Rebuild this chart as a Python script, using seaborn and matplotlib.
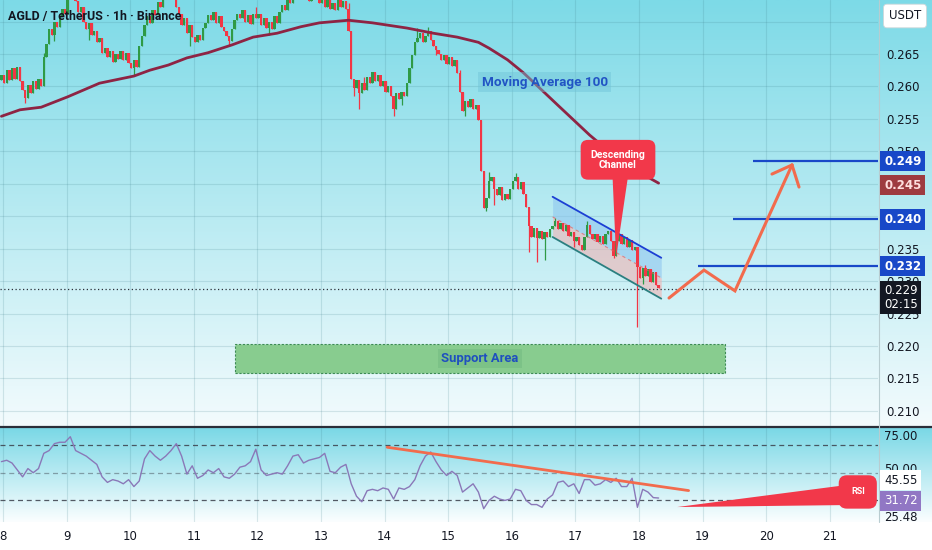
import numpy as np
import pandas as pd
import matplotlib
matplotlib.use("Agg")
import matplotlib.pyplot as plt
import matplotlib.colors as mcolors
from matplotlib.patches import Rectangle, Polygon
import seaborn as sns

# ---------------- data ----------------
T0 = 7.975  # day position of the first hourly candle
day_ticks = [8, 9, 10, 11, 12, 13, 14, 15, 16, 17, 18, 19, 20, 21]

first_open = 0.2610
closes = [
    0.2618, 0.2605, 0.2625, 0.2610, 0.2628, 0.2612, 0.2630, 0.2608,
    0.2595, 0.2582,
    0.2602, 0.2590, 0.2608, 0.2596, 0.2612, 0.2600,
    0.2645, 0.2665, 0.2688,
    0.2680, 0.2700, 0.2692, 0.2708,
    0.2720, 0.2712, 0.2735, 0.2745, 0.2750, 0.2732,
    0.2715, 0.2722, 0.2700, 0.2688, 0.2698, 0.2680, 0.2686, 0.2668, 0.2675,
    0.2652, 0.2660, 0.2645, 0.2655, 0.2638, 0.2650, 0.2642, 0.2655, 0.2640, 0.2652, 0.2636,
    0.2628, 0.2640, 0.2630,
    0.2662, 0.2678, 0.2695,
    0.2708, 0.2698, 0.2718, 0.2710, 0.2730, 0.2722, 0.2745, 0.2755, 0.2740, 0.2758, 0.2735, 0.2722, 0.2712,
    0.2695, 0.2705, 0.2682, 0.2695, 0.2676, 0.2668, 0.2680, 0.2672, 0.2690, 0.2698,
    0.2710, 0.2702, 0.2715, 0.2698, 0.2708, 0.2692, 0.2685, 0.2678, 0.2670, 0.2688,
    0.2702, 0.2712, 0.2705, 0.2718, 0.2700, 0.2710, 0.2696, 0.2712, 0.2705,
    0.2712, 0.2695, 0.2705, 0.2690, 0.2700, 0.2688, 0.2708, 0.2698, 0.2715, 0.2725, 0.2718,
    0.2735, 0.2728, 0.2748, 0.2740, 0.2752, 0.2745, 0.2758, 0.2740, 0.2732, 0.2748, 0.2755, 0.2738,
    0.2728, 0.2742, 0.2722, 0.2735, 0.2720,
    0.2728, 0.2718, 0.2735, 0.2722, 0.2732, 0.2720,
    0.2685, 0.2612,
    0.2598, 0.2610, 0.2590, 0.2605, 0.2595,
    0.2615, 0.2605, 0.2622, 0.2608, 0.2618,
    0.2600, 0.2608, 0.2592, 0.2600, 0.2585, 0.2566, 0.2590,
    0.2580, 0.2592, 0.2585,
    0.2605, 0.2628, 0.2648, 0.2668, 0.2675,
    0.2682, 0.2668, 0.2678, 0.2685, 0.2672, 0.2662, 0.2656,
    0.2650, 0.2640, 0.2648, 0.2635, 0.2645, 0.2632, 0.2640, 0.2620,
    0.2592, 0.2562,
    0.2578, 0.2568, 0.2580, 0.2566, 0.2572,
    0.2548, 0.2470, 0.2412,
    0.2428, 0.2455,
    0.2460, 0.2442, 0.2432, 0.2445,
    0.2425, 0.2435, 0.2426, 0.2442,
    0.2455, 0.2460, 0.2442, 0.2452,
    0.2435, 0.2415, 0.2385,
    0.2368, 0.2382, 0.2366, 0.2378, 0.2365, 0.2376, 0.2368, 0.2380,
    0.2385, 0.2392, 0.2380, 0.2390, 0.2378, 0.2386,
    0.2370, 0.2376, 0.2362, 0.2368, 0.2356,
    0.2348, 0.2368, 0.2386,
    0.2372, 0.2365, 0.2372, 0.2360, 0.2370, 0.2358, 0.2372, 0.2378, 0.2362,
    0.2338, 0.2362, 0.2372,
    0.2358, 0.2368, 0.2352, 0.2364, 0.2348, 0.2352,
    0.2322,
    0.2305, 0.2320,
    0.2308, 0.2318, 0.2298, 0.2314, 0.2294, 0.2290,
]
low_wick_hours = [9, 20, 33, 50, 71, 86, 101, 133, 135, 148, 151, 164, 175, 183, 186,
                  199, 202, 205, 216, 231, 240, 242]
low_wick_values = [0.2575, 0.2670, 0.2672, 0.2618, 0.2662, 0.2662, 0.2680, 0.2585, 0.2565,
                   0.2555, 0.2572, 0.2648, 0.2555, 0.2408, 0.2418, 0.2345, 0.2330, 0.2333,
                   0.2352, 0.2335, 0.2229, 0.2295]
high_wick_hours = [16, 27, 62, 96, 131, 137, 157, 161, 173, 184, 194, 209, 221, 243]
high_wick_values = [0.2652, 0.2760, 0.2765, 0.2722, 0.2728, 0.2615, 0.2690, 0.2692, 0.2625,
                    0.2468, 0.2466, 0.2398, 0.2392, 0.2325]

ma_hours = [0, 7, 15, 25, 37, 50, 56, 63, 70, 78, 87, 95, 104, 113, 120, 131,
            140, 153, 163, 172, 180, 184, 191, 197, 203, 210, 216, 222, 229, 235, 241, 248]
ma_values = [0.2554, 0.2564, 0.2568, 0.2584, 0.2605, 0.2616, 0.2625, 0.2633, 0.2644,
             0.2652, 0.2664, 0.2676, 0.2682, 0.2692, 0.2698, 0.2702, 0.2698, 0.2690,
             0.2682, 0.2676, 0.2668, 0.2659, 0.2641, 0.2621, 0.2598, 0.2571, 0.2548,
             0.2525, 0.2501, 0.2484, 0.2467, 0.2451]

rsi_step_hours = 2
rsi_values = [
    58, 59, 57, 52, 47, 53, 50, 53, 64, 66,
    71, 72, 72, 76, 66, 64, 62, 59, 56, 47,
    43, 45, 44, 42, 45, 40, 44, 60, 66, 62,
    59, 62, 66, 71, 62, 49, 55, 46, 48, 52,
    50, 53, 47, 46, 49, 54, 55, 58, 67, 52,
    48, 49, 50, 49, 55, 62, 63, 57, 59, 60,
    61, 64, 51, 50, 54, 56, 42, 33, 29, 37,
    38, 37, 39, 38, 31, 39, 38, 40, 45, 55,
    62, 65, 58, 52, 48, 51, 48, 36, 39, 42,
    36, 24, 30, 33, 31, 30, 31, 38, 37, 30,
    27, 27, 25, 31, 34, 43, 44, 40, 42, 35,
    45, 45, 41, 42, 45, 43, 46, 40, 40, 46,
    25, 38, 36, 32, 31.72,
]

channel_hours = [208, 249]
channel_upper = [0.2430, 0.2336]
channel_mid = [0.2399, 0.2305]
channel_lower = [0.2368, 0.2273]

target_prices = [0.2485, 0.2395, 0.2323]
target_labels = ["0.249", "0.240", "0.232"]
target_start_days = [19.79, 19.48, 18.93]
ma_last_label = "0.245"
ma_last_price = 0.2448

proj_days = [18.472, 19.022, 19.509, 20.406]
proj_prices = [0.2274, 0.2317, 0.2285, 0.2479]
arrow_wing_days = [20.091, 20.516]
arrow_wing_prices = [0.2465, 0.2445]

support_days = [11.648, 19.352]
support_prices = [0.2158, 0.2203]

current_price = 0.2288
current_label = "0.229\n02:15"
rsi_trend_days = [14.04, 18.78]
rsi_trend_values = [68.4, 37.1]

price_ticks = [0.210, 0.215, 0.220, 0.225, 0.230, 0.235, 0.240, 0.245, 0.250, 0.255, 0.260, 0.265, 0.270]
price_tick_labels = ["0.210", "0.215", "0.220", "0.225", "0.230", "0.235", "", "",
                     "0.250", "0.255", "0.260", "0.265", ""]

# ---------------- style ----------------
sns.set_theme(style="white")
plt.rcParams["font.family"] = ["DejaVu Sans"]
LBL = ["Roboto", "DejaVu Sans"]

GREEN = "#2f9a46"
RED = "#f23645"
BLUE = "#1848c8"
ORANGE = "#f26b4d"
TXT = "#131722"

W, H = 932, 550
PLOT_R = 878
MAIN_BOT = 426
RSI_TOP, RSI_BOT = 428, 522
XMIN = 8 - 3 / 63.6
XMAX = 8 + 875 / 63.6

fig = plt.figure(figsize=(9.32, 5.5), dpi=100)
fig.patch.set_facecolor("white")

# background gradients
bg = fig.add_axes([0, 0, 1, 1], zorder=-10)
bg.axis("off")


def grad(c1, c2, n=256):
    a = np.array(mcolors.to_rgb(c1))
    b = np.array(mcolors.to_rgb(c2))
    t = np.linspace(0, 1, n)[:, None]
    return (a * (1 - t) + b * t)[:, None, :]


bg.imshow(grad("#7ddae7", "#f3fbfd"), extent=[0, W, MAIN_BOT, 0], aspect="auto")
bg.imshow(grad("#7ad8e6", "#fbfeff"), extent=[0, W, RSI_BOT, RSI_TOP], aspect="auto")
bg.plot([0, W], [427, 427], color="#2a2e39", lw=1.6)
bg.plot([879, 879], [0, RSI_BOT], color="#b8ccd0", lw=0.8)
bg.set_xlim(0, W)
bg.set_ylim(H, 0)

# ---------------- main price panel ----------------
ax = fig.add_axes([0, 1 - MAIN_BOT / H, PLOT_R / W, MAIN_BOT / H])
ax.set_facecolor("none")
ax.set_xlim(XMIN, XMAX)
ax.set_ylim(0.20768, 0.27332)
for s in ax.spines.values():
    s.set_visible(False)

closes_a = np.array(closes)
opens_a = np.r_[first_open, closes_a[:-1]]
hours = np.arange(len(closes_a))
days = T0 + hours / 24.0
highs = np.maximum(opens_a, closes_a)
lows = np.minimum(opens_a, closes_a)
for h, v in zip(low_wick_hours, low_wick_values):
    lows[h] = min(lows[h], v)
for h, v in zip(high_wick_hours, high_wick_values):
    highs[h] = max(highs[h], v)
up = closes_a >= opens_a
cols = np.where(up, GREEN, RED)
ax.vlines(days, lows, highs, colors=cols, lw=0.9, zorder=3)
body_b = np.minimum(opens_a, closes_a)
body_h = np.maximum(np.abs(closes_a - opens_a), 0.0001)
ax.bar(days, body_h, bottom=body_b, width=0.88 / 24, color=cols, linewidth=0, zorder=3)

ma_df = pd.DataFrame({"day": T0 + np.array(ma_hours) / 24.0, "ma": ma_values})
sns.lineplot(data=ma_df, x="day", y="ma", ax=ax, color="#8e2444", lw=2.0, zorder=4,
             legend=False)

ax.set_yticks(price_ticks)
ax.set_yticklabels(price_tick_labels)
ax.yaxis.tick_right()
ax.tick_params(axis="y", length=0, pad=6, labelsize=8.5, labelcolor=TXT)
ax.set_xticks(day_ticks)
ax.tick_params(axis="x", length=0, labelbottom=False)
ax.grid(True, color="#3f7f8c", alpha=0.18, lw=0.8)
ax.set_xlabel("")
ax.set_ylabel("")

# descending channel
ch_days = T0 + np.array(channel_hours) / 24.0
ax.fill_between(ch_days, channel_mid, channel_upper, color="#8cc4ef", alpha=0.55, lw=0, zorder=2)
ax.fill_between(ch_days, channel_lower, channel_mid, color="#f0b4b4", alpha=0.6, lw=0, zorder=2)
ax.plot(ch_days, channel_upper, color="#1c3fd4", lw=1.3, zorder=5)
ax.plot(ch_days, channel_lower, color="#2b7f80", lw=1.3, zorder=5)
ax.plot(ch_days, channel_mid, color="#e86060", lw=0.8, ls=(0, (3, 3)), alpha=0.7, zorder=5)

# callout "Descending Channel"
ax.add_patch(Polygon([[17.58, 0.2470], [17.84, 0.2470], [17.64, 0.2337]],
                     closed=True, facecolor="#f2384a", edgecolor="none", zorder=6))
ax.text(17.67, 0.2487, "Descending\nChannel", color="white", fontsize=7.5, fontweight="bold",
        ha="center", va="center", linespacing=1.0, zorder=7, family=LBL,
        bbox=dict(boxstyle="round,pad=0.95,rounding_size=0.7", fc="#f2384a", ec="none"))

# MA label
ax.text(16.52, 0.26068, "Moving Average 100", color="#2154c4", fontsize=9.7, fontweight="bold",
        ha="center", va="center", zorder=6, family=LBL,
        bbox=dict(boxstyle="square,pad=0.25", fc="#6fc3d8", ec="none", alpha=0.45))

# support area
ax.add_patch(Rectangle((support_days[0], support_prices[0]), support_days[1] - support_days[0],
                       support_prices[1] - support_prices[0], facecolor="#88cc8f",
                       edgecolor="#3d8b55", ls=(0, (2, 1.5)), lw=0.8, zorder=2))
ax.text(sum(support_days) / 2, sum(support_prices) / 2, "Support Area", color="#1f4fbf",
        fontsize=9.4, fontweight="bold", ha="center", va="center", zorder=6, family=LBL,
        bbox=dict(boxstyle="square,pad=0.25", fc="#6fb67f", ec="none", alpha=0.45))

# current price dotted line
ax.axhline(current_price, color="#2a2e39", ls=(0, (1, 2)), lw=0.9, zorder=4)

# targets
ax.hlines(target_prices, target_start_days, XMAX, colors=BLUE, lw=1.6, zorder=5)

# projection arrow
ax.plot(proj_days, proj_prices, color=ORANGE, lw=2.2, solid_capstyle="round",
        solid_joinstyle="miter", zorder=6)
for wd, wp in zip(arrow_wing_days, arrow_wing_prices):
    ax.plot([wd, proj_days[-1]], [wp, proj_prices[-1]], color=ORANGE, lw=2.2,
            solid_capstyle="round", zorder=6)

# title
ax.text(0.009, 0.962, "AGLD / TetherUS · 1h · Binance", transform=ax.transAxes,
        fontsize=8.9, color=TXT, ha="left", va="center", fontweight="bold", zorder=8,
        family=LBL)

# right-side price boxes
tr = ax.get_yaxis_transform()
xlab = 884 / PLOT_R
for price, lab in zip(target_prices, target_labels):
    ax.text(xlab, price, lab, transform=tr, ha="left", va="center", fontsize=8.5,
            fontweight="bold", color="white", clip_on=False, zorder=10,
            bbox=dict(boxstyle="square,pad=0.3", fc=BLUE, ec="none"))
ax.text(xlab, ma_last_price, ma_last_label, transform=tr, ha="left", va="center",
        fontsize=8.5, fontweight="bold", color="#ffdede", clip_on=False, zorder=10,
        bbox=dict(boxstyle="square,pad=0.3", fc="#9e3b40", ec="none"))
ax.text(xlab, 0.2275, current_label, transform=tr, ha="left", va="center",
        fontsize=8.5, color="white", clip_on=False, zorder=10, linespacing=1.05,
        bbox=dict(boxstyle="square,pad=0.3", fc=TXT, ec="none"))
ax.text(905 / PLOT_R, 0.27332 - 16 / 6490, "USDT", transform=tr, ha="center", va="center",
        fontsize=8.5, color=TXT, clip_on=False, zorder=10,
        bbox=dict(boxstyle="round,pad=0.45,rounding_size=0.3", fc="white", ec="#d0d8da", lw=0.6))

# ---------------- RSI panel ----------------
rx = fig.add_axes([0, 1 - RSI_BOT / H, PLOT_R / W, (RSI_BOT - RSI_TOP) / H])
rx.set_facecolor("none")
rx.set_xlim(XMIN, XMAX)
rx.set_ylim(14.4, 82.3)
for s in rx.spines.values():
    s.set_visible(False)

rsi_df = pd.DataFrame({"day": T0 + np.arange(len(rsi_values)) * rsi_step_hours / 24.0,
                       "rsi": rsi_values})
sns.lineplot(data=rsi_df, x="day", y="rsi", ax=rx, color="#8a78b8", lw=1.0, zorder=4,
             legend=False)
for lvl, a in [(70, 0.85), (50, 0.45), (30, 0.85)]:
    rx.axhline(lvl, color="#3a3f4a", ls=(0, (4, 3)), lw=0.9, alpha=a, zorder=3)
rx.plot(rsi_trend_days, rsi_trend_values, color=ORANGE, lw=2.0, zorder=5)

rx.add_patch(Polygon([[18.60, 25.2], [21.36, 41.7], [21.36, 26.7]], closed=True,
                     facecolor="#f2384a", edgecolor="none", zorder=6))
rx.text(21.44, 36.1, "RSI", color="white", fontsize=6.5, fontweight="bold", ha="center",
        va="center", zorder=7, family=LBL,
        bbox=dict(boxstyle="round,pad=1.35,rounding_size=0.9", fc="#f2384a", ec="none"))

rx.set_xticks(day_ticks)
rx.set_xticklabels([str(d) for d in day_ticks])
rx.tick_params(axis="x", length=0, pad=6, labelsize=8.5, labelcolor=TXT)
rx.set_yticks([])
rx.grid(True, axis="x", color="#3f7f8c", alpha=0.18, lw=0.8)
rx.set_xlabel("")
rx.set_ylabel("")

rtr = rx.get_yaxis_transform()
for val, txt in [(75.8, "75.00"), (52.0, "50.00"), (18.0, "25.48")]:
    rx.text(xlab, val, txt, transform=rtr, ha="left", va="center", fontsize=8.5,
            color=TXT, clip_on=False, zorder=9)
rx.text(xlab, 44.7, "45.55", transform=rtr, ha="left", va="center", fontsize=8.5,
        color=TXT, clip_on=False, zorder=10,
        bbox=dict(boxstyle="square,pad=0.3", fc="white", ec="none"))
rx.text(xlab, 29.6, "31.72", transform=rtr, ha="left", va="center", fontsize=8.5,
        color="white", clip_on=False, zorder=10,
        bbox=dict(boxstyle="square,pad=0.3", fc="#9177c4", ec="none"))

fig.savefig("out.png", dpi=100, facecolor="white")
